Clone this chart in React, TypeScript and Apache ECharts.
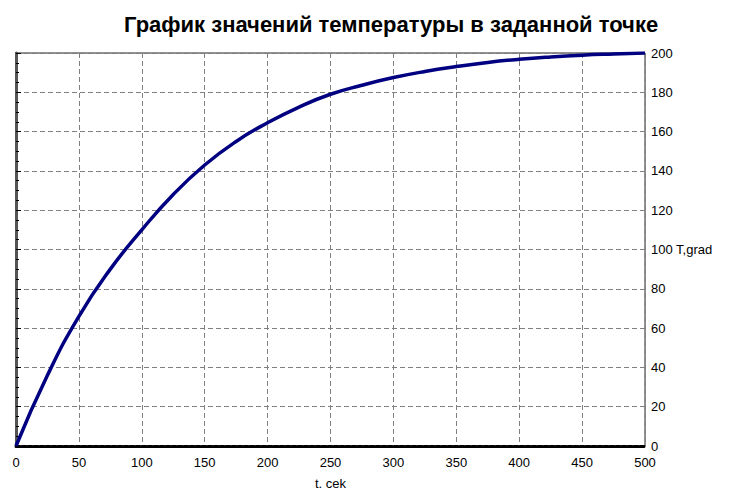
import React, { useEffect, useRef } from "react";
import * as echarts from "echarts";

const timeSec = [0, 25, 50, 75, 100, 125, 150, 175, 200, 225, 250, 275, 300, 325, 350, 375, 400, 425, 450, 475, 500];
const tempGrad = [0, 36, 66, 90, 110, 128, 143, 155, 164.5, 172.5, 179, 183.6, 187.5, 190.6, 193.1, 195.2, 196.8, 198, 198.9, 199.5, 200];

const titleText = "График значений температуры в заданной точке";
const xName = "t. cek";
const yName = "T,grad";

export default function App() {
  const ref = useRef<HTMLDivElement>(null);
  useEffect(() => {
    if (!ref.current) return;
    const chart = echarts.init(ref.current, undefined, { renderer: "svg" });
    const font = "'Liberation Sans', Arial, sans-serif";
    const data = timeSec.map((t, i) => [t, tempGrad[i]]);
    chart.setOption({
      animation: false,
      backgroundColor: "#fff",
      title: {
        text: titleText,
        left: 119,
        top: 8,
        textStyle: { fontFamily: font, fontWeight: "bold", fontSize: 22, color: "#000" },
      },
      grid: {
        left: 16,
        right: 86,
        top: 53,
        bottom: 44,
        show: true,
        borderColor: "#222",
        borderWidth: 1,
        outerBoundsMode: "none",
        containLabel: false,
      },
      xAxis: {
        type: "value",
        min: 0,
        max: 500,
        interval: 50,
        name: xName,
        nameLocation: "middle",
        nameGap: 31,
        nameTextStyle: { fontFamily: font, fontSize: 13, color: "#000" },
        axisLine: { show: true, onZero: false, lineStyle: { color: "#000", width: 3, type: [4, 2] } },
        axisTick: { show: false },
        axisLabel: { fontFamily: font, fontSize: 13, color: "#000", margin: 10 },
        splitLine: { show: true, lineStyle: { color: "#808080", type: [5, 3], width: 1 } },
      },
      yAxis: [
        {
          type: "value",
          position: "right",
          min: 0,
          max: 200,
          interval: 20,
          axisLine: { show: true, lineStyle: { color: "#000", width: 2 } },
          axisTick: { show: true, inside: false, length: 5, lineStyle: { color: "#000" } },
          minorTick: { show: true, splitNumber: 4, length: 3, lineStyle: { color: "#000" } },
          axisLabel: {
            fontFamily: font,
            fontSize: 13,
            color: "#000",
            margin: 6,
            formatter: (v: number) => (v === 100 ? "100 " + yName : String(v)),
          },
          splitLine: { show: true, lineStyle: { color: "#808080", type: [5, 3], width: 1 } },
        },
        {
          type: "value",
          position: "left",
          min: 0,
          max: 200,
          interval: 20,
          axisLine: { show: true, lineStyle: { color: "#555", width: 3 } },
          axisTick: { show: false },
          axisLabel: { show: false },
          splitLine: { show: false },
        },
      ],
      series: [
        {
          type: "line",
          data,
          smooth: 0.5,
          showSymbol: false,
          lineStyle: { color: "#000080", width: 3.5 },
          yAxisIndex: 0,
        },
      ],
    });
    return () => chart.dispose();
  }, []);
  return <div ref={ref} style={{ position: "absolute", left: 0, top: 0, width: 731, height: 490 }} />;
}
